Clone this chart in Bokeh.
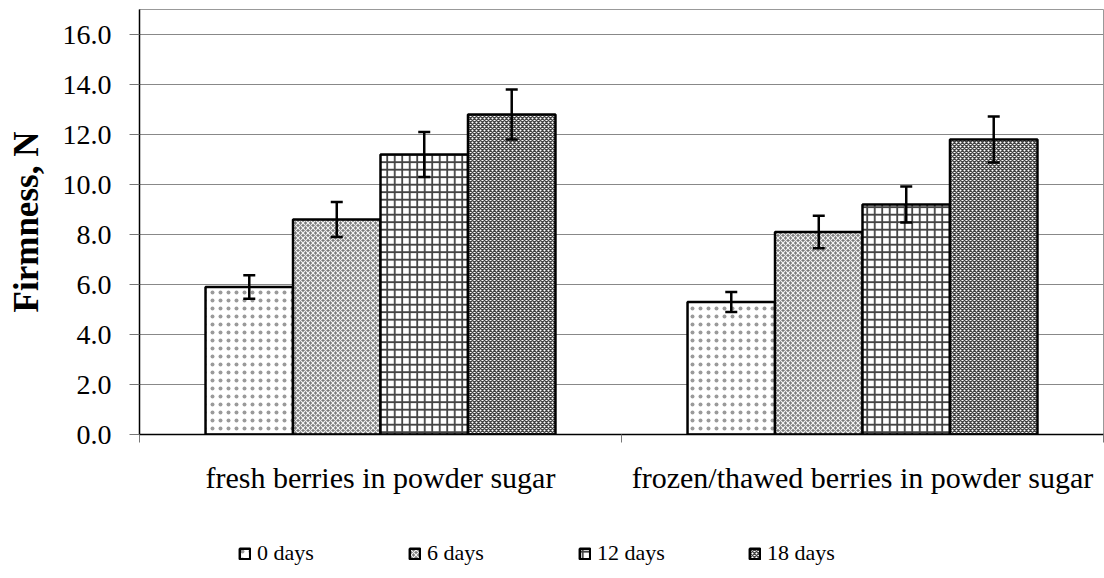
import numpy as np
from bokeh.plotting import figure
from bokeh.layouts import column
from bokeh.models import (Range1d, FixedTicker, LinearAxis, Whisker, ColumnDataSource,
                          Legend, LegendItem, TeeHead, NumeralTickFormatter)
from bokeh.embed import file_html
from bokeh.resources import INLINE

categories = ["fresh berries in powder sugar", "frozen/thawed berries in powder sugar"]
series = ["0 days", "6 days", "12 days", "18 days"]
firmness = {
    "0 days": [5.9, 5.3],
    "6 days": [8.6, 8.1],
    "12 days": [11.2, 9.2],
    "18 days": [12.8, 11.8],
}
errors = {
    "0 days": [0.47, 0.4],
    "6 days": [0.7, 0.65],
    "12 days": [0.9, 0.72],
    "18 days": [1.0, 0.92],
}
y_ticks = [0, 2, 4, 6, 8, 10, 12, 14, 16]

styles = {
    "0 days": dict(fill_color="white", hatch_pattern="dot", hatch_scale=8, hatch_weight=1, hatch_color="#9a9a9a"),
    "6 days": dict(fill_color="#7c7c7c", hatch_pattern="diagonal_cross", hatch_scale=5, hatch_weight=1.1, hatch_color="#f4f4f4"),
    "12 days": dict(fill_color="white", hatch_pattern="cross", hatch_scale=7.5, hatch_weight=1.8, hatch_color="#444444"),
    "18 days": dict(fill_color="white", hatch_pattern="diagonal_cross", hatch_scale=4, hatch_weight=1.4, hatch_color="#444444"),
}

FONT = "Liberation Serif"

p = figure(width=1104, height=520, output_backend="svg", toolbar_location=None,
           x_range=Range1d(0, len(categories)), y_range=Range1d(0, 17),
           x_axis_location=None, y_axis_location=None,
           min_border_left=139, min_border_right=1, min_border_top=9, min_border_bottom=86)

p.outline_line_color = "#999999"
p.outline_line_width = 1
p.xgrid.grid_line_color = None
p.ygrid.grid_line_color = "#888888"
p.ygrid.ticker = FixedTicker(ticks=y_ticks)

yax = LinearAxis(ticker=FixedTicker(ticks=y_ticks, minor_ticks=[]),
                 formatter=NumeralTickFormatter(format="0.0"),
                 axis_label="Firmness, N")
yax.axis_line_color = "black"
yax.axis_line_width = 1.5
yax.major_tick_line_color = "#777777"
yax.major_tick_out = 10
yax.major_tick_in = 0
yax.minor_tick_line_color = None
yax.major_label_text_font = FONT
yax.major_label_text_font_size = "28px"
yax.major_label_text_color = "black"
yax.major_label_standoff = 18
yax.axis_label_text_font = FONT
yax.axis_label_text_font_size = "35px"
yax.axis_label_text_font_style = "bold"
yax.axis_label_text_color = "black"
yax.axis_label_standoff = 14
p.add_layout(yax, "left")

centers = [i + 0.5 for i in range(len(categories))]
xax = LinearAxis(ticker=FixedTicker(ticks=centers, minor_ticks=list(range(len(categories) + 1))))
xax.major_label_overrides = {c: name for c, name in zip(centers, categories)}
xax.axis_line_color = "black"
xax.axis_line_width = 1.5
xax.major_tick_line_color = None
xax.minor_tick_line_color = "#777777"
xax.minor_tick_out = 8
xax.minor_tick_in = 0
xax.major_label_text_font = FONT
xax.major_label_text_font_size = "30px"
xax.major_label_text_color = "black"
xax.major_label_standoff = 18
p.add_layout(xax, "below")

# legend strip below the chart
p2 = figure(width=1104, height=58, output_backend="svg", toolbar_location=None,
            x_range=Range1d(0, len(categories)), y_range=Range1d(-2, -1),
            x_axis_location=None, y_axis_location=None,
            min_border_left=0, min_border_right=0, min_border_top=0, min_border_bottom=0)
p2.outline_line_color = None
p2.xgrid.grid_line_color = None
p2.ygrid.grid_line_color = None

bar_w = 0.1815
items = []
for k, s in enumerate(series):
    xs = [c + (k - 1.5) * bar_w for c in centers]
    vals = firmness[s]
    err = errors[s]
    src = ColumnDataSource(dict(x=xs, top=vals,
                                upper=[v + e for v, e in zip(vals, err)],
                                lower=[v - e for v, e in zip(vals, err)]))
    p.vbar(x="x", top="top", width=bar_w, source=src,
           line_color="black", line_width=2.5, **styles[s])
    wh = Whisker(base="x", upper="upper", lower="lower", source=src,
                 line_color="black", line_width=2.5, level="overlay",
                 upper_head=TeeHead(size=12, line_width=2.5, line_color="black"),
                 lower_head=TeeHead(size=12, line_width=2.5, line_color="black"))
    p.add_layout(wh)
    # hidden copy of the series in the legend strip, used only for the legend swatches
    r2 = p2.vbar(x="x", top="top", width=bar_w, source=src, visible=False,
                 line_color="black", line_width=2.5, **styles[s])
    items.append(LegendItem(label=s, renderers=[r2]))

legend = Legend(items=items, orientation="horizontal", location=(99, 12))
legend.border_line_color = None
legend.background_fill_alpha = 0
legend.inactive_fill_alpha = 0
legend.padding = 0
legend.margin = 0
legend.spacing = 81
legend.glyph_width = 13
legend.glyph_height = 13
legend.label_width = 70
legend.label_standoff = 6
legend.label_text_font = FONT
legend.label_text_font_size = "22px"
legend.label_text_color = "black"
p2.add_layout(legend, "center")

layout = column(p, p2, spacing=0)
open("out.html", "w").write(file_html(layout, INLINE))
